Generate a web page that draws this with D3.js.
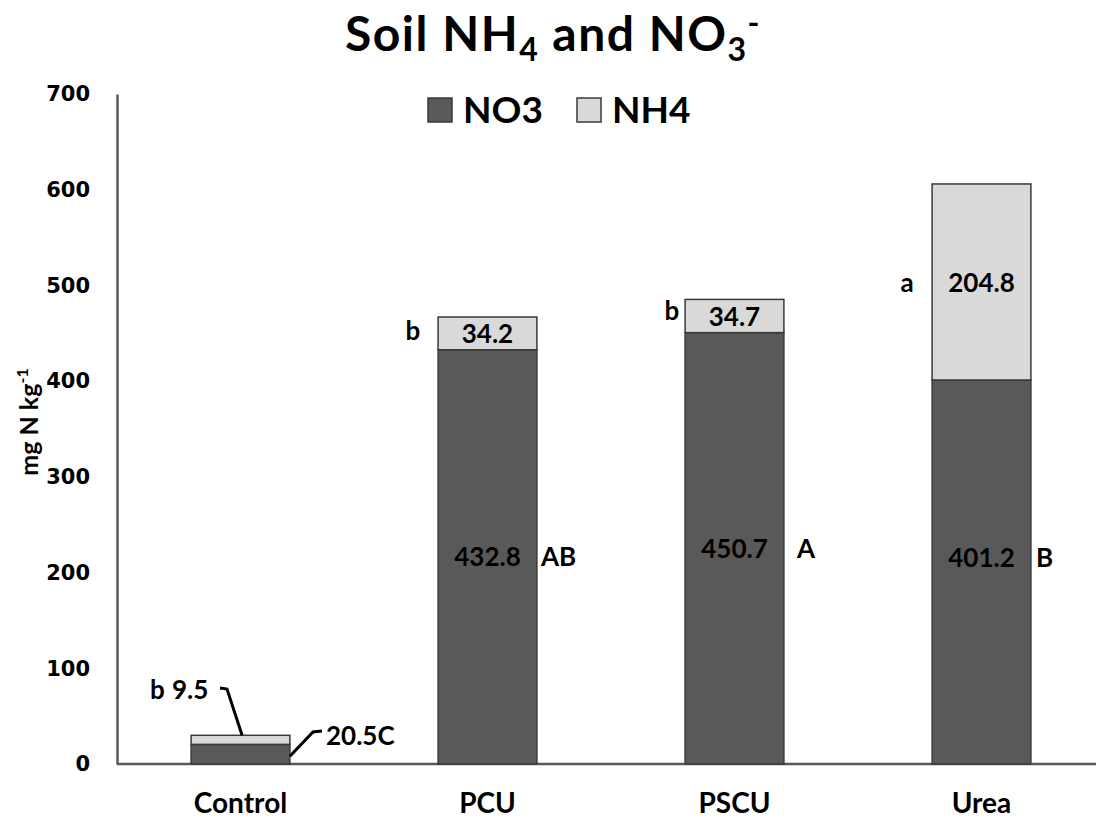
<!DOCTYPE html>
<html><head><meta charset="utf-8">
<script src="https://cdn.jsdelivr.net/npm/d3@7"></script>
<style>body{margin:0;background:#fff}svg{display:block}</style>
</head><body>
<svg id="c" width="1096" height="819"></svg>
<script>
const categories = ["Control", "PCU", "PSCU", "Urea"];
const no3Values = [20.5, 432.8, 450.7, 401.2];
const nh4Values = [9.5, 34.2, 34.7, 204.8];
const no3Letters = ["C", "AB", "A", "B"];
const nh4Letters = ["b", "b", "b", "a"];
const yTicks = [0, 100, 200, 300, 400, 500, 600, 700];
const seriesNames = ["NO3", "NH4"];

const W = 1096, H = 819;
const svg = d3.select("#c");
const font = "Lato, 'Open Sans', sans-serif";
const tickFont = "'DejaVu Sans', Verdana, sans-serif";
const colNO3 = "#595959", colNH4 = "#d9d9d9", stroke = "#3a3a3a";

const x = d3.scaleBand().domain(categories).range([117, 1105]).paddingInner(0.6).paddingOuter(0.3);
const y = d3.scaleLinear().domain([0, 700]).range([764, 94]);

// Title
const title = svg.append("text").attr("x", 553).attr("y", 51).attr("text-anchor", "middle")
  .attr("font-family", font).attr("font-weight", 700).attr("font-size", 48)
  .attr("letter-spacing", 1.5).attr("fill", "#000");
title.append("tspan").text("Soil NH");
title.append("tspan").text("4").attr("font-size", 32).attr("dy", 10);
title.append("tspan").text(" and NO").attr("dy", -10);
title.append("tspan").text("3").attr("font-size", 32).attr("dy", 10);
title.append("tspan").text("-").attr("font-size", 32).attr("dy", -27);

// Legend
const legX = [428, 577];
[colNO3, colNH4].forEach((c, i) => {
  svg.append("rect").attr("x", legX[i]).attr("y", 98).attr("width", 24).attr("height", 24)
    .attr("fill", c).attr("stroke", stroke).attr("stroke-width", 1.5);
  svg.append("text").attr("x", legX[i] + 35).attr("y", 123).attr("font-family", font)
    .attr("font-weight", 700).attr("font-size", 37).text(seriesNames[i]);
});

// Y axis
const yAxis = svg.append("g").attr("transform", "translate(117,0)")
  .call(d3.axisLeft(y).tickValues(yTicks).tickSize(0).tickPadding(27));
yAxis.select(".domain").attr("stroke", "#595959").attr("stroke-width", 2.5);
yAxis.selectAll("text").attr("font-family", tickFont).attr("font-weight", 700)
  .attr("font-size", 21).attr("fill", "#000");

// X axis
const xAxis = svg.append("g").attr("transform", "translate(0,764)")
  .call(d3.axisBottom(x).tickSize(0).tickPadding(29));
xAxis.select(".domain").attr("d", "M117,0H1096").attr("stroke", "#595959").attr("stroke-width", 2.5);
xAxis.selectAll("text").attr("font-family", font).attr("font-weight", 700)
  .attr("font-size", 28).attr("fill", "#000");

// Y title
svg.append("text").attr("transform", "translate(38,422) rotate(-90)").attr("text-anchor", "middle")
  .attr("font-family", font).attr("font-weight", 700).attr("font-size", 25)
  .call(t => {
    t.append("tspan").text("mg N kg");
    t.append("tspan").text("-1").attr("font-size", 16).attr("dy", -10);
  });

// Bars
const bw = x.bandwidth();
categories.forEach((c, i) => {
  const x0 = x(c);
  svg.append("rect").attr("x", x0).attr("y", y(no3Values[i])).attr("width", bw)
    .attr("height", y(0) - y(no3Values[i])).attr("fill", colNO3).attr("stroke", stroke).attr("stroke-width", 1.5);
  svg.append("rect").attr("x", x0).attr("y", y(no3Values[i] + nh4Values[i])).attr("width", bw)
    .attr("height", y(no3Values[i]) - y(no3Values[i] + nh4Values[i])).attr("fill", colNH4)
    .attr("stroke", stroke).attr("stroke-width", 1.5);
});

const lab = (xp, yp, t, anchor, size) => svg.append("text").attr("x", xp).attr("y", yp)
  .attr("text-anchor", anchor || "middle").attr("dominant-baseline", "central")
  .attr("font-family", font).attr("font-weight", 700).attr("font-size", size || 26).attr("fill", "#000").text(t);

// Labels for the three big bars
const no3LabelAt = [null, 216, 225, 215];
[1, 2, 3].forEach(i => {
  const c = categories[i];
  const cx = x(c) + bw / 2;
  const right = x(c) + bw;
  lab(cx, y(no3LabelAt[i]) - 1, no3Values[i].toFixed(1));
  const gap = [0, 4, 13, 5][i];
  lab(right + gap, y(no3LabelAt[i]) - 1, no3Letters[i], "start");
  const mid = no3Values[i] + nh4Values[i] / 2;
  lab(cx, y(mid), nh4Values[i].toFixed(1));
  const lx = [0, 413, 672, 907][i];
  lab(lx, y(mid) - [0, 3, 6, 0][i], nh4Letters[i]);
});

// Control labels with leader lines
{
  const c = categories[0];
  const x0 = x(c), right = x0 + bw;
  const topY = y(no3Values[0] + nh4Values[0]);
  lab(150, 689, nh4Letters[0], "start");
  lab(172, 689, nh4Values[0].toFixed(1), "start");
  svg.append("path").attr("d", `M220,688L227,689L${x0 + 51},${topY}`)
    .attr("fill", "none").attr("stroke", "#000").attr("stroke-width", 3);
  svg.append("path").attr("d", `M${right},${y(no3Values[0] / 2) + 2}L313,732L322,731`)
    .attr("fill", "none").attr("stroke", "#000").attr("stroke-width", 3);
  lab(326, 735, no3Values[0].toFixed(1) + no3Letters[0], "start");
}
</script>
</body></html>
